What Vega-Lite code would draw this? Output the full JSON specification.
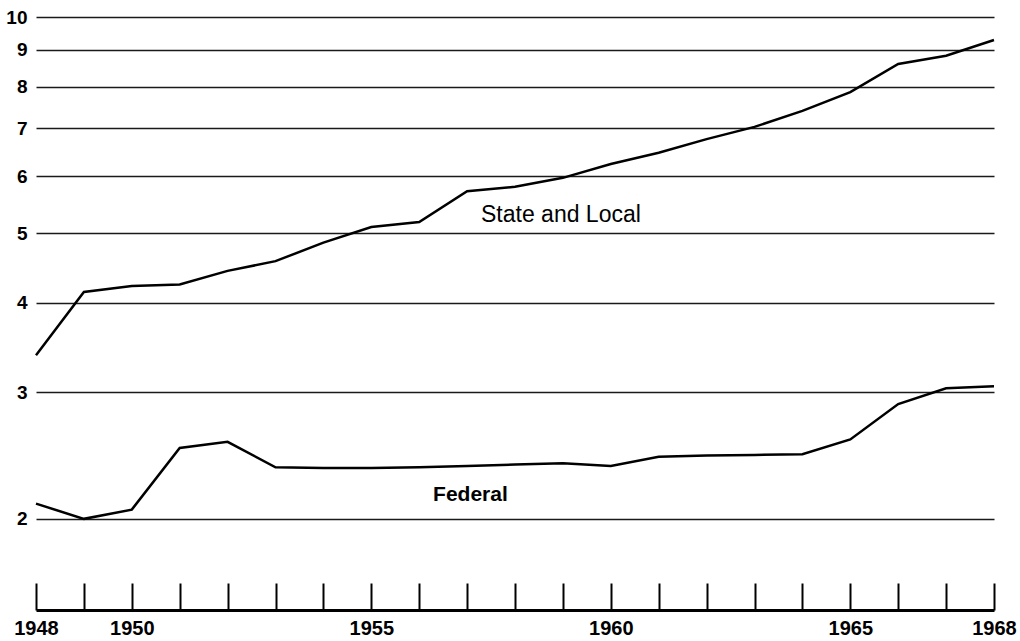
{
  "$schema": "https://vega.github.io/schema/vega-lite/v6.json",
  "width": 958,
  "height": 593,
  "autosize": {"type": "none"},
  "padding": {"left": 36, "top": 17, "right": 26, "bottom": 31},
  "background": "white",
  "config": {"view": {"stroke": null}},
  "datasets": {
    "series": [
      {"year": 1948, "series": "State and Local", "value": 3.38},
      {"year": 1949, "series": "State and Local", "value": 4.14},
      {"year": 1950, "series": "State and Local", "value": 4.22},
      {"year": 1951, "series": "State and Local", "value": 4.24},
      {"year": 1952, "series": "State and Local", "value": 4.43},
      {"year": 1953, "series": "State and Local", "value": 4.57},
      {"year": 1954, "series": "State and Local", "value": 4.85},
      {"year": 1955, "series": "State and Local", "value": 5.10},
      {"year": 1956, "series": "State and Local", "value": 5.18},
      {"year": 1957, "series": "State and Local", "value": 5.72},
      {"year": 1958, "series": "State and Local", "value": 5.80},
      {"year": 1959, "series": "State and Local", "value": 5.97},
      {"year": 1960, "series": "State and Local", "value": 6.24},
      {"year": 1961, "series": "State and Local", "value": 6.47},
      {"year": 1962, "series": "State and Local", "value": 6.76},
      {"year": 1963, "series": "State and Local", "value": 7.03},
      {"year": 1964, "series": "State and Local", "value": 7.40},
      {"year": 1965, "series": "State and Local", "value": 7.86},
      {"year": 1966, "series": "State and Local", "value": 8.60},
      {"year": 1967, "series": "State and Local", "value": 8.83},
      {"year": 1968, "series": "State and Local", "value": 9.29},
      {"year": 1948, "series": "Federal", "value": 2.10},
      {"year": 1949, "series": "Federal", "value": 2.00},
      {"year": 1950, "series": "Federal", "value": 2.06},
      {"year": 1951, "series": "Federal", "value": 2.51},
      {"year": 1952, "series": "Federal", "value": 2.56},
      {"year": 1953, "series": "Federal", "value": 2.36},
      {"year": 1954, "series": "Federal", "value": 2.355},
      {"year": 1955, "series": "Federal", "value": 2.355},
      {"year": 1956, "series": "Federal", "value": 2.36},
      {"year": 1957, "series": "Federal", "value": 2.37},
      {"year": 1958, "series": "Federal", "value": 2.38},
      {"year": 1959, "series": "Federal", "value": 2.39},
      {"year": 1960, "series": "Federal", "value": 2.37},
      {"year": 1961, "series": "Federal", "value": 2.44},
      {"year": 1962, "series": "Federal", "value": 2.45},
      {"year": 1963, "series": "Federal", "value": 2.455},
      {"year": 1964, "series": "Federal", "value": 2.46},
      {"year": 1965, "series": "Federal", "value": 2.58},
      {"year": 1966, "series": "Federal", "value": 2.89},
      {"year": 1967, "series": "Federal", "value": 3.04},
      {"year": 1968, "series": "Federal", "value": 3.06}
    ],
    "labels": [
      {"year": 1957.29, "value": 5.3, "label": "State and Local"},
      {"year": 1956.29, "value": 2.16, "label": "Federal"}
    ]
  },
  "layer": [
    {
      "data": {"name": "series"},
      "mark": {"type": "line", "color": "black", "strokeWidth": 2.5},
      "encoding": {
        "x": {
          "field": "year", "type": "quantitative",
          "scale": {"domain": [1948, 1968], "nice": false, "zero": false},
          "axis": {
            "title": null,
            "values": [1948,1949,1950,1951,1952,1953,1954,1955,1956,1957,1958,1959,1960,1961,1962,1963,1964,1965,1966,1967,1968],
            "labelExpr": "indexof([1948,1950,1955,1960,1965,1968], datum.value) >= 0 ? datum.value + '' : ''",
            "grid": false,
            "tickSize": -27,
            "tickWidth": 2,
            "tickColor": "black",
            "domainColor": "black",
            "domainWidth": 3,
            "labelFont": "Liberation Sans",
            "labelFontWeight": "bold",
            "labelFontSize": 20,
            "labelColor": "black",
            "labelPadding": 35,
            "labelAlign": "center",
            "labelFlush": false,
            "labelOverlap": false
          }
        },
        "y": {
          "field": "value", "type": "quantitative",
          "scale": {"type": "log", "domain": [1.493, 10], "nice": false, "zero": false},
          "axis": {
            "title": null,
            "values": [2,3,4,5,6,7,8,9,10],
            "format": "d",
            "grid": true,
            "gridColor": "#1a1a1a",
            "gridWidth": 1.5,
            "gridOpacity": 1,
            "domain": false,
            "ticks": false,
            "labelFont": "Liberation Sans",
            "labelFontWeight": "bold",
            "labelFontSize": 19,
            "labelColor": "black",
            "labelPadding": 9
          }
        },
        "detail": {"field": "series"}
      }
    },
    {
      "data": {"name": "labels"},
      "transform": [{"filter": "datum.label == 'State and Local'"}],
      "mark": {"type": "text", "align": "left", "baseline": "middle", "font": "Liberation Sans", "fontSize": 23, "color": "black"},
      "encoding": {
        "x": {"field": "year", "type": "quantitative"},
        "y": {"field": "value", "type": "quantitative"},
        "text": {"field": "label"}
      }
    },
    {
      "data": {"name": "labels"},
      "transform": [{"filter": "datum.label == 'Federal'"}],
      "mark": {"type": "text", "align": "left", "baseline": "middle", "font": "Liberation Sans", "fontSize": 21, "fontWeight": "bold", "color": "black"},
      "encoding": {
        "x": {"field": "year", "type": "quantitative"},
        "y": {"field": "value", "type": "quantitative"},
        "text": {"field": "label"}
      }
    }
  ]
}
